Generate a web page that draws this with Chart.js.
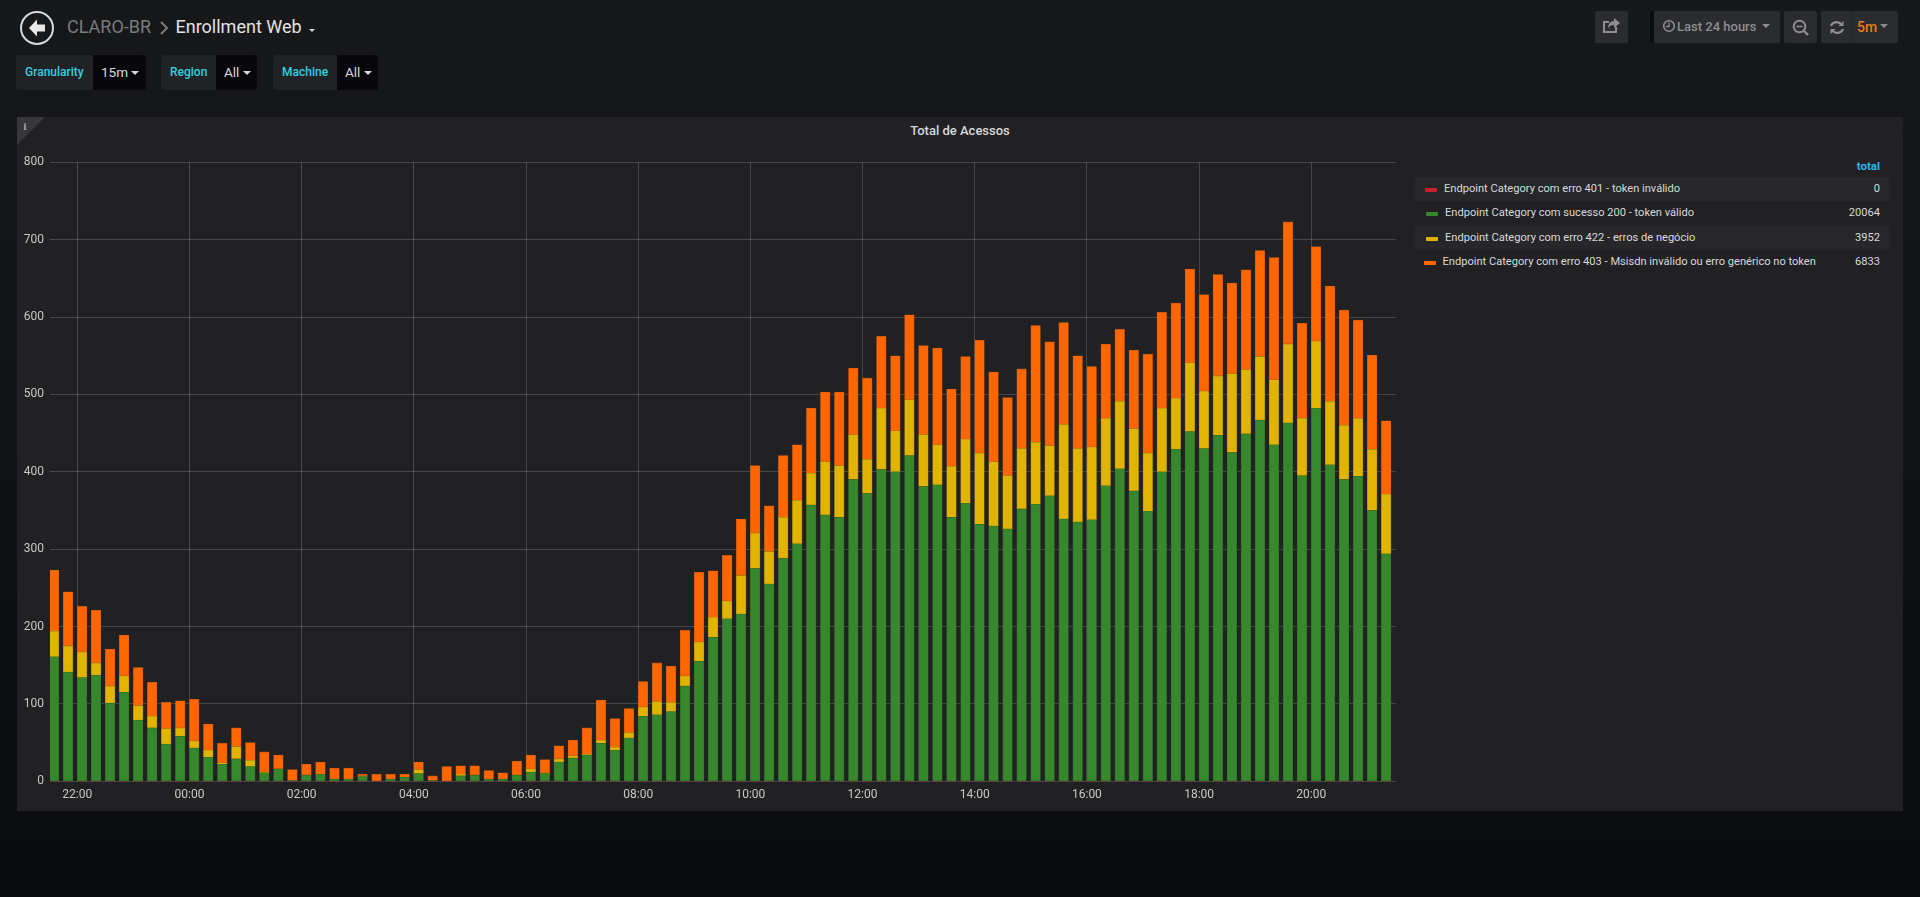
<!DOCTYPE html>
<html>
<head>
<meta charset="utf-8">
<title>Enrollment Web</title>
<script src="https://cdn.jsdelivr.net/npm/chart.js@4"></script>
<style>
  html, body { margin: 0; padding: 0; }
  body {
    width: 1920px; height: 897px; overflow: hidden; position: relative;
    background: linear-gradient(#17181a, #0a0b0d);
    font-family: Roboto, sans-serif; color: #d8d9da;
  }
  .abs { position: absolute; white-space: nowrap; }
  .var-label, .var-value { position: absolute; top: 55px; height: 35px; line-height: 35px; box-sizing: border-box; }
  .var-label { background: #212226; color: #33cfe0; font-size: 12px; font-weight: 500; border-radius: 3px 0 0 3px; }
  .var-value { background: #08080a; color: #d8d9da; font-size: 13.5px; border-radius: 0 3px 3px 0; }
  .caret { position: absolute; width: 0; height: 0; border-left: 4px solid transparent; border-right: 4px solid transparent; border-top: 4px solid #d8d9da; }
  .btn { position: absolute; top: 11px; height: 32px; background: #2b2c2f; border-radius: 2px; }
  #panel { position: absolute; left: 17px; top: 117px; width: 1886px; height: 694px; background: #212124; }
  #chart { position: absolute; left: 17px; top: 117px; }
  .legend-row { position: absolute; left: 1414px; width: 476px; height: 24px; line-height: 24px; font-size: 11.1px; color: #d8d9da; }
  .legend-row.odd { background: #27272a; }
  .swatch { position: absolute; top: 11px; width: 12px; height: 4px; border-radius: 1px; }
  .legend-name { position: absolute; top: 0; }
  .legend-total { position: absolute; right: 10px; top: 0; }
</style>
</head>
<body>

<!-- header -->
<svg class="abs" style="left:18px;top:9px" width="40" height="40" viewBox="0 0 40 40">
  <circle cx="19" cy="19" r="16" fill="none" stroke="#d8d9da" stroke-width="2"/>
  <path d="M19 10.5 L11 19 L19 27.5 L19 22.5 L27 22.5 L27 15.5 L19 15.5 Z" fill="#e8e8e8"/>
</svg>
<div class="abs" style="left:67px;top:16px;font-size:18px;line-height:22px;color:#7b7b7b">CLARO-BR</div>
<svg class="abs" style="left:158px;top:20px" width="12" height="16"><path d="M3 2 L9 8 L3 14" fill="none" stroke="#7b7b7b" stroke-width="2"/></svg>
<div class="abs" style="left:175.5px;top:16px;font-size:18px;line-height:22px;color:#e3e3e4">Enrollment Web</div>
<div class="caret" style="left:309px;top:29px;border-left-width:3.5px;border-right-width:3.5px;border-top-width:3.5px"></div>

<!-- template variables -->
<div class="var-label" style="left:16px;width:77px;padding-left:9px">Granularity</div>
<div class="var-value" style="left:93px;width:53px;padding-left:8px">15m</div>
<div class="caret" style="left:131px;top:71px"></div>
<div class="var-label" style="left:161px;width:55px;padding-left:9px">Region</div>
<div class="var-value" style="left:216px;width:41px;padding-left:8px">All</div>
<div class="caret" style="left:243px;top:71px"></div>
<div class="var-label" style="left:273px;width:64px;padding-left:9px">Machine</div>
<div class="var-value" style="left:337px;width:41px;padding-left:8px">All</div>
<div class="caret" style="left:364px;top:71px"></div>

<!-- toolbar -->
<div class="btn" style="left:1595px;width:33px"></div>
<svg class="abs" style="left:1602px;top:18px" width="20" height="18" viewBox="0 0 20 18">
  <path d="M14 9 V14 H2 V4 H7" fill="none" stroke="#8e8e8e" stroke-width="2"/>
  <path d="M12 0 L18 5 L12 10 V7 C9 7 7 8 6 11 C6 6 8 3 12 3 Z" fill="#8e8e8e"/>
</svg>
<div class="btn" style="left:1650px;width:4px;background:#0b0c0e"></div>
<div class="btn" style="left:1654px;width:126px"></div>
<svg class="abs" style="left:1662px;top:19px" width="14" height="14" viewBox="0 0 14 14">
  <circle cx="7" cy="7" r="5.3" fill="none" stroke="#8e8e8e" stroke-width="1.6"/>
  <path d="M7 3.5 V7.5 H4" fill="none" stroke="#8e8e8e" stroke-width="1.3"/>
</svg>
<div class="abs" style="left:1677px;top:16px;font-size:13px;line-height:22px;font-weight:500;color:#8e8e8e">Last 24 hours</div>
<div class="caret" style="left:1762px;top:24px;border-top-color:#8e8e8e"></div>
<div class="btn" style="left:1784px;width:33px"></div>
<svg class="abs" style="left:1792px;top:19px" width="18" height="18" viewBox="0 0 18 18">
  <circle cx="7.5" cy="7.5" r="5.8" fill="none" stroke="#8e8e8e" stroke-width="2"/>
  <path d="M4.5 7.5 H10.5" stroke="#8e8e8e" stroke-width="1.6"/>
  <path d="M11.5 11.5 L16 16" stroke="#8e8e8e" stroke-width="2.4"/>
</svg>
<div class="btn" style="left:1821px;width:77px"></div>
<div class="abs" style="left:1851px;top:11px;width:1px;height:32px;background:#232427"></div>
<svg class="abs" style="left:1829px;top:20px" width="16" height="15" viewBox="0 0 16 15">
  <path d="M2 6 C3 2.5 8.5 0.5 12 4" fill="none" stroke="#8e8e8e" stroke-width="2.2"/>
  <path d="M14.5 0.8 V6 H9.5 Z" fill="#8e8e8e"/>
  <path d="M14 9 C13 12.5 7.5 14.5 4 11" fill="none" stroke="#8e8e8e" stroke-width="2.2"/>
  <path d="M1.5 14.2 V9 H6.5 Z" fill="#8e8e8e"/>
</svg>
<div class="abs" style="left:1857px;top:16px;font-size:14px;line-height:22px;font-weight:500;color:#eb7b18">5m</div>
<div class="caret" style="left:1880px;top:24px;border-top-color:#8e8e8e"></div>

<!-- panel -->
<div id="panel"></div>
<svg class="abs" style="left:17px;top:117px" width="29" height="29">
  <path d="M0 0 H28 L0 28 Z" fill="#36363b"/>
  <text x="8" y="13" font-family="'DejaVu Serif', serif" font-weight="bold" font-size="9" fill="#a8a8a8" text-anchor="middle">i</text>
</svg>
<div class="abs" style="left:17px;width:1886px;top:123px;text-align:center;font-size:13px;line-height:16px;font-weight:500;color:#d8d9da">Total de Acessos</div>
<canvas id="chart" width="1395" height="694"></canvas>

<div class="abs" style="right:40px;top:158px;font-size:11.5px;line-height:16px;font-weight:700;color:#33b5e5">total</div>
<div id="legend"></div>

<script>
// 15m buckets of the last 24 hours
const bucketLabels = [
  '21:30','21:45','22:00','22:15','22:30','22:45','23:00','23:15','23:30','23:45',
  '00:00','00:15','00:30','00:45','01:00','01:15','01:30','01:45','02:00','02:15',
  '02:30','02:45','03:00','03:15','03:30','03:45','04:00','04:15','04:30','04:45',
  '05:00','05:15','05:30','05:45','06:00','06:15','06:30','06:45','07:00','07:15',
  '07:30','07:45','08:00','08:15','08:30','08:45','09:00','09:15','09:30','09:45',
  '10:00','10:15','10:30','10:45','11:00','11:15','11:30','11:45','12:00','12:15',
  '12:30','12:45','13:00','13:15','13:30','13:45','14:00','14:15','14:30','14:45',
  '15:00','15:15','15:30','15:45','16:00','16:15','16:30','16:45','17:00','17:15',
  '17:30','17:45','18:00','18:15','18:30','18:45','19:00','19:15','19:30','19:45',
  '20:00','20:15','20:30','20:45','21:00','21:15'
];

const erro401 = [
  0,0,0,0,0,0,0,0,0,0,0,0,0,0,0,0,0,0,0,0,0,0,0,0,0,0,0,0,0,0,0,0,
  0,0,0,0,0,0,0,0,0,0,0,0,0,0,0,0,0,0,0,0,0,0,0,0,0,0,0,0,0,0,0,0,
  0,0,0,0,0,0,0,0,0,0,0,0,0,0,0,0,0,0,0,0,0,0,0,0,0,0,0,0,0,0,0,0
];
const sucesso200 = [
  161,141,134,137,101,115,79,69,48,58,43,31,22,29,19,11,16,1,8,9,3,3,6,0,3,5,10,1,0,7,8,3,
  3,8,12,10,25,30,34,49,40,56,84,86,90,123,155,186,210,216,275,255,288,307,357,344,341,390,372,403,400,421,381,383,
  341,359,332,330,326,352,358,369,339,335,338,382,404,375,349,400,429,452,430,447,425,449,467,435,463,395,482,409,390,394,350,294
];
const erro422 = [
  33,34,33,16,22,21,19,15,20,11,9,9,2,16,8,1,0,0,0,0,0,0,1,0,0,0,5,0,0,2,0,0,
  0,0,4,1,4,3,1,4,4,7,12,17,12,13,25,26,23,50,46,42,53,56,41,69,67,58,44,79,53,72,67,52,
  66,83,92,83,69,78,80,65,122,95,94,87,87,81,75,82,66,89,74,77,102,83,82,84,102,74,87,82,70,75,79,77
];
const erro403 = [
  79,70,59,68,48,53,49,44,34,35,54,34,25,24,23,26,18,14,14,16,14,14,2,9,6,4,10,6,19,11,12,11,
  8,18,18,17,17,20,34,52,37,31,33,50,47,59,90,60,59,73,87,59,80,72,84,90,95,86,105,93,97,110,115,125,
  100,107,146,116,101,103,151,134,132,120,104,96,93,101,128,124,123,121,125,131,117,129,137,158,158,123,122,149,149,127,122,95
];

const xTickLabels = ['22:00','00:00','02:00','04:00','06:00','08:00','10:00','12:00','14:00','16:00','18:00','20:00'];

const seriesNames = [
  'Endpoint Category com erro 401 - token inválido',
  'Endpoint Category com sucesso 200 - token válido',
  'Endpoint Category com erro 422 - erros de negócio',
  'Endpoint Category com erro 403 - Msisdn inválido ou erro genérico no token'
];
const seriesTotals = [0, 20064, 3952, 6833];
const seriesColors = ['#d01c2e', '#37872d', '#e0b400', '#ff6600'];
const seriesEdges = ['#8f1a26', '#2f6a2a', '#a88a10', '#b85512'];
const seriesValues = [erro401, sucesso200, erro422, erro403];

// minutes since the start of the window, 21:30 of the day before
function toMinutes(label) {
  const [h, m] = label.split(':').map(Number);
  const t = h * 60 + m - (21 * 60 + 30);
  return t < 0 ? t + 1440 : t;
}

// grafana bars start at their timestamp, chart.js centers them
const barPixels = 9.6;
const barShift = 5.1;

const datasets = seriesNames.map((name, i) => ({
  label: name,
  data: seriesValues[i].map((v, j) => ({ x: toMinutes(bucketLabels[j]) + barShift, y: v })),
  backgroundColor: seriesColors[i],
  borderColor: seriesEdges[i],
  borderWidth: seriesValues[i] === erro401 ? 0 : 0.6,
  borderSkipped: false,
  barThickness: barPixels
}));

new Chart(document.getElementById('chart'), {
  type: 'bar',
  data: { datasets: datasets },
  options: {
    responsive: false,
    animation: false,
    layout: { padding: { top: 45.3, right: 16.3, left: 0, bottom: 0 } },
    plugins: { legend: { display: false }, title: { display: false }, tooltip: { enabled: false } },
    scales: {
      x: {
        type: 'linear',
        stacked: true,
        offset: false,
        min: 0.8,
        max: 1440.3,
        afterBuildTicks: (scale) => { scale.ticks = xTickLabels.map(l => ({ value: toMinutes(l) })); },
        afterFit: (scale) => { scale.height = 29.7; },
        ticks: {
          autoSkip: false,
          maxRotation: 0,
          padding: 6,
          color: '#c8c8c8',
          font: { family: 'Roboto', size: 12 },
          callback: (value, index) => xTickLabels[index]
        },
        grid: { offset: false, color: 'rgba(255,255,255,0.17)', lineWidth: 1, drawTicks: false },
        border: { display: false }
      },
      y: {
        stacked: true,
        min: 0,
        max: 800,
        afterFit: (scale) => { scale.width = 33; },
        ticks: {
          stepSize: 100,
          padding: 6,
          color: '#c8c8c8',
          font: { family: 'Roboto', size: 12 }
        },
        grid: { color: 'rgba(255,255,255,0.17)', lineWidth: 1, drawTicks: false },
        border: { display: false }
      }
    }
  }
});

// legend table on the right of the panel
const legendTops = [177, 201, 226, 250];
const swatchLefts = [11, 12, 12, 10];
const nameLefts = [30, 31, 31, 28.5];
const legend = document.getElementById('legend');
seriesNames.forEach((name, i) => {
  const row = document.createElement('div');
  row.className = 'legend-row' + (i % 2 === 0 ? ' odd' : '');
  row.style.top = legendTops[i] + 'px';
  row.innerHTML =
    '<span class="swatch" style="left:' + swatchLefts[i] + 'px;background:' + seriesColors[i] + '"></span>' +
    '<span class="legend-name" style="left:' + nameLefts[i] + 'px">' + name + '</span>' +
    '<span class="legend-total">' + seriesTotals[i] + '</span>';
  legend.appendChild(row);
});
</script>
</body>
</html>
